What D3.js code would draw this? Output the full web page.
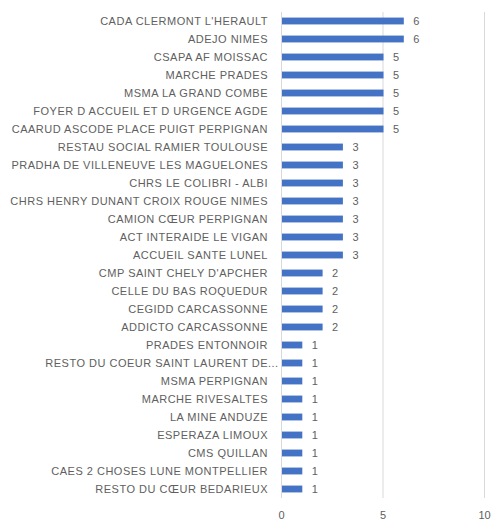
<!DOCTYPE html>
<html><head><meta charset="utf-8">
<script src="https://cdn.jsdelivr.net/npm/d3@7"></script>
<style>body{margin:0;background:#fff;}svg{display:block;}</style>
</head><body>
<svg id="c" width="491" height="520"></svg>
<script>
const categories = [
 "CADA CLERMONT L'HERAULT","ADEJO NIMES","CSAPA AF MOISSAC","MARCHE PRADES","MSMA LA GRAND COMBE",
 "FOYER D ACCUEIL ET D URGENCE AGDE","CAARUD ASCODE PLACE PUIGT PERPIGNAN","RESTAU SOCIAL RAMIER TOULOUSE",
 "PRADHA DE VILLENEUVE LES MAGUELONES","CHRS LE COLIBRI - ALBI","CHRS HENRY DUNANT CROIX ROUGE NIMES",
 "CAMION CŒUR PERPIGNAN","ACT INTERAIDE LE VIGAN","ACCUEIL SANTE LUNEL","CMP SAINT CHELY D'APCHER",
 "CELLE DU BAS ROQUEDUR","CEGIDD CARCASSONNE","ADDICTO CARCASSONNE","PRADES ENTONNOIR",
 "RESTO DU COEUR SAINT LAURENT DE...","MSMA PERPIGNAN","MARCHE RIVESALTES","LA MINE ANDUZE",
 "ESPERAZA LIMOUX","CMS QUILLAN","CAES 2 CHOSES LUNE MONTPELLIER","RESTO DU CŒUR BEDARIEUX"
];
const values = [6,6,5,5,5,5,5,3,3,3,3,3,3,3,2,2,2,2,1,1,1,1,1,1,1,1,1];
const xTicks = [0,5,10];

(function(){
const svg = d3.select("#c");
const mLeft = 281.5, mRight = 486, mTop = 12, mBottom = 498;
const x = d3.scaleLinear().domain([0,10]).range([mLeft, mRight - 1.5]);
const y = d3.scaleBand().domain(categories).range([mTop, mBottom]).paddingInner(0.62).paddingOuter(0.31);
const font = "'Liberation Sans', Arial, sans-serif";

svg.append("g").selectAll("line").data(xTicks).join("line")
  .attr("x1", d => x(d)).attr("x2", d => x(d))
  .attr("y1", mTop).attr("y2", mBottom)
  .attr("stroke", "#d9d9d9").attr("stroke-width", 1);

svg.append("g").selectAll("rect").data(values).join("rect")
  .attr("x", x(0) + 0.5)
  .attr("y", (d,i) => y(categories[i]))
  .attr("width", d => x(d) - x(0))
  .attr("height", y.bandwidth())
  .attr("fill", "#4472C4");

svg.append("g").selectAll("text").data(values).join("text")
  .attr("x", d => x(d) + 10)
  .attr("y", (d,i) => y(categories[i]) + y.bandwidth()/2)
  .attr("dy", "0.35em")
  .attr("font-family", font).attr("font-size", 11).attr("fill", "#606060")
  .text(d => d);

const labels = svg.append("g").selectAll("text").data(categories).join("text")
  .attr("x", 268)
  .attr("y", d => y(d) + y.bandwidth()/2)
  .attr("dy", "0.35em")
  .attr("text-anchor", "end")
  .attr("font-family", font).attr("font-size", 11).attr("letter-spacing", "0.5px")
  .attr("fill", "#606060")
  .text(d => d);
// truncated labels: ellipsis overhangs the label column
labels.each(function(d){
  if (d.endsWith("...")) {
    const full = this.getComputedTextLength();
    const t = d3.select(this);
    t.text(d.slice(0, -3));
    const short = this.getComputedTextLength();
    t.text(d).attr("x", 268 + (full - short));
  }
});

svg.append("g").selectAll("text").data(xTicks).join("text")
  .attr("x", d => x(d))
  .attr("y", 515)
  .attr("dy", "0.35em")
  .attr("text-anchor", "middle")
  .attr("font-family", font).attr("font-size", 11).attr("fill", "#606060")
  .text(d => d);
})();
</script>
</body></html>
